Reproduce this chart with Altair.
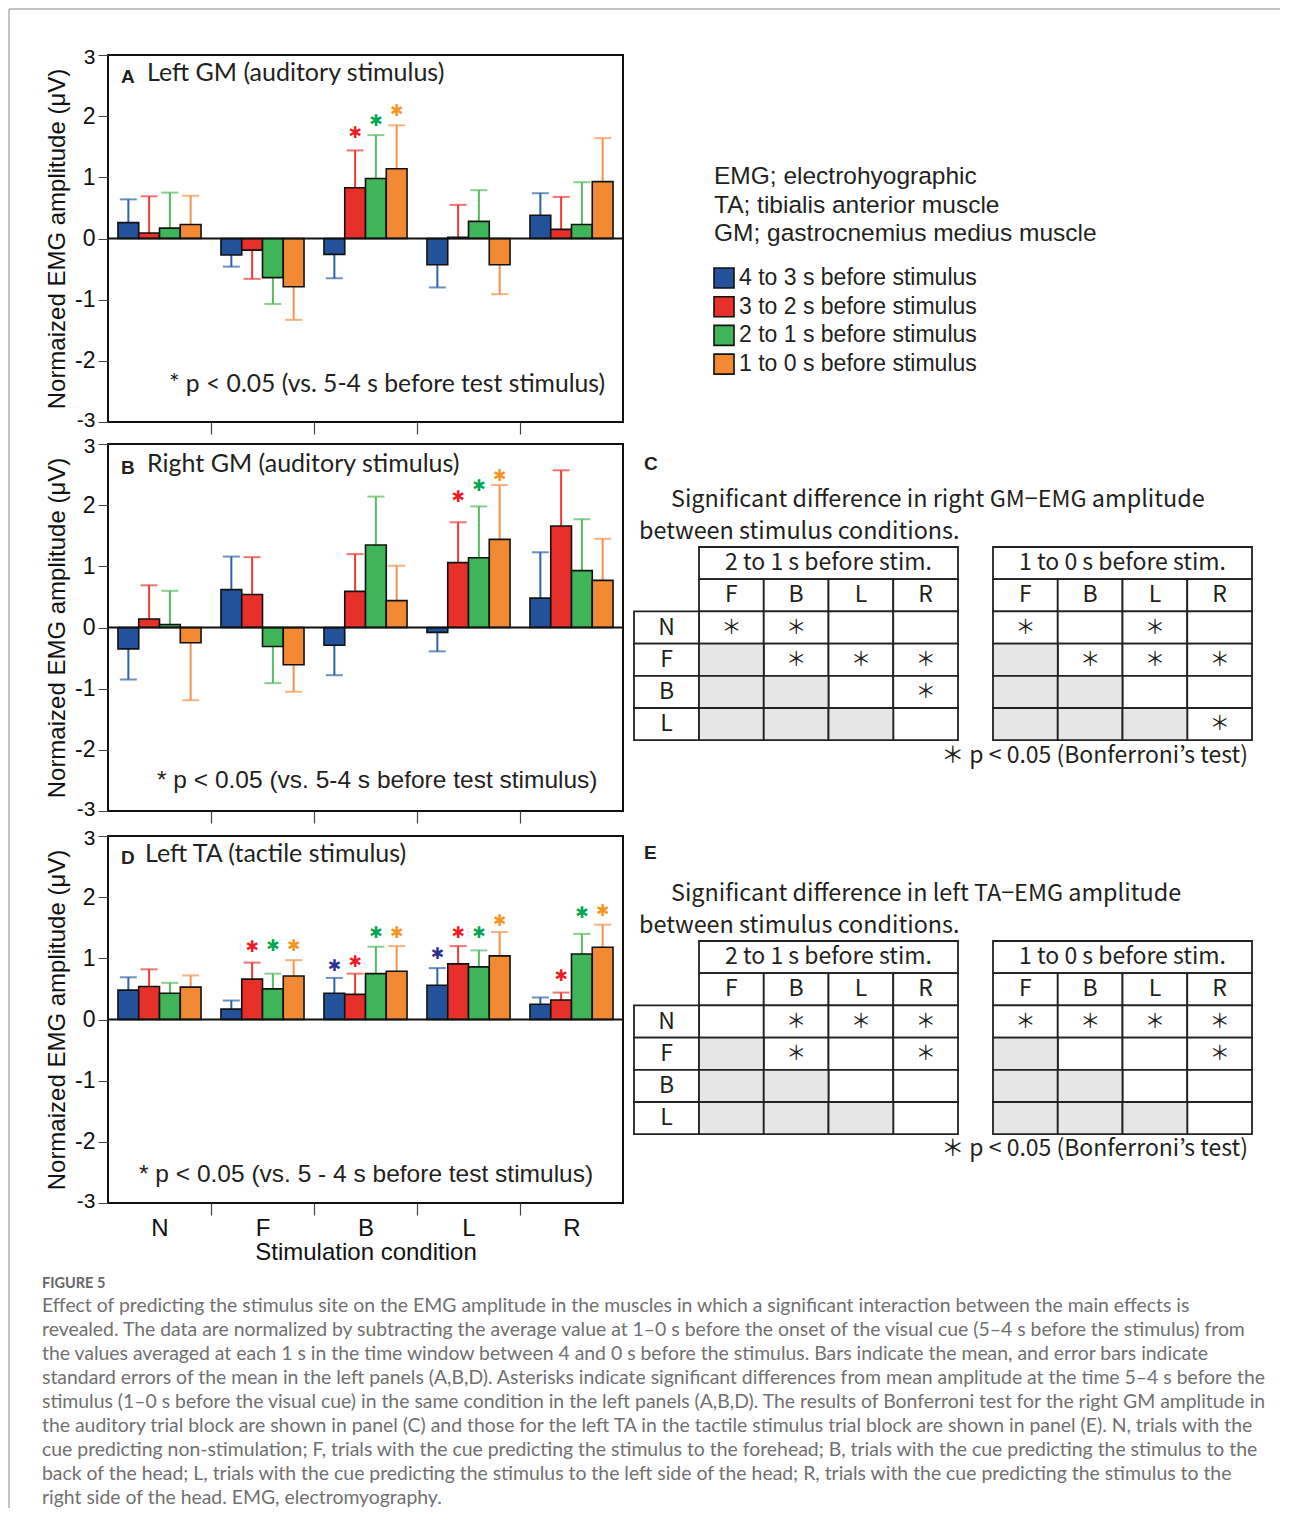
import altair as alt
import pandas as pd

# ---------------- data ----------------
conds = ["N", "F", "B", "L", "R"]
series = ["4 to 3 s before stimulus", "3 to 2 s before stimulus",
          "2 to 1 s before stimulus", "1 to 0 s before stimulus"]
bar_colors = ["#23529a", "#e8302a", "#40b458", "#f28a33"]
err_colors = ["#2e62aa", "#ee3a33", "#55bb5f", "#f5914a"]
star_colors = ["#2e3192", "#ed1c24", "#00a651", "#f7941d"]

# mean amplitude per condition (rows N,F,B,L,R) and period (cols = series)
a_mean = [[0.26, 0.09, 0.17, 0.23], [-0.27, -0.19, -0.64, -0.79], [-0.26, 0.83, 0.98, 1.14],
          [-0.43, 0.02, 0.28, -0.43], [0.38, 0.15, 0.23, 0.93]]
a_err = [[0.64, 0.69, 0.75, 0.70], [-0.46, -0.66, -1.07, -1.33], [-0.65, 1.44, 1.69, 1.85],
         [-0.80, 0.55, 0.79, -0.91], [0.74, 0.68, 0.92, 1.64]]
a_stars = [("B", 1, 1.73), ("B", 2, 1.92), ("B", 3, 2.09)]

b_mean = [[-0.35, 0.14, 0.05, -0.25], [0.62, 0.54, -0.31, -0.61], [-0.29, 0.59, 1.35, 0.44],
          [-0.08, 1.06, 1.14, 1.44], [0.48, 1.66, 0.93, 0.77]]
b_err = [[-0.85, 0.69, 0.60, -1.19], [1.16, 1.15, -0.91, -1.05], [-0.78, 1.20, 2.14, 1.01],
         [-0.39, 1.72, 1.98, 2.33], [1.23, 2.57, 1.77, 1.45]]
b_stars = [("L", 1, 2.13), ("L", 2, 2.32), ("L", 3, 2.48)]

d_mean = [[0.48, 0.54, 0.43, 0.53], [0.17, 0.66, 0.50, 0.71], [0.43, 0.41, 0.75, 0.79],
          [0.56, 0.91, 0.86, 1.04], [0.25, 0.32, 1.07, 1.18]]
d_err = [[0.69, 0.82, 0.60, 0.72], [0.31, 0.93, 0.75, 0.97], [0.68, 0.75, 1.19, 1.20],
         [0.84, 1.20, 1.13, 1.43], [0.36, 0.44, 1.40, 1.55]]
d_stars = [("F", 1, 1.18), ("F", 2, 1.20), ("F", 3, 1.20),
           ("B", 0, 0.87), ("B", 1, 0.94), ("B", 2, 1.41), ("B", 3, 1.41),
           ("L", 0, 1.07), ("L", 1, 1.41), ("L", 2, 1.41), ("L", 3, 1.61),
           ("R", 1, 0.71), ("R", 2, 1.74), ("R", 3, 1.78)]

# Bonferroni tables: rows N,F,B,L ; cols F,B,L,R ; 1 = significant
tab_rows = ["N", "F", "B", "L"]
tab_cols = ["F", "B", "L", "R"]
c_21 = [[1, 1, 0, 0], [0, 1, 1, 1], [0, 0, 0, 1], [0, 0, 0, 0]]
c_10 = [[1, 0, 1, 0], [0, 1, 1, 1], [0, 0, 0, 0], [0, 0, 0, 1]]
e_21 = [[0, 1, 1, 1], [0, 1, 0, 1], [0, 0, 0, 0], [0, 0, 0, 0]]
e_10 = [[1, 1, 1, 1], [0, 0, 0, 1], [0, 0, 0, 0], [0, 0, 0, 0]]

info_lines = ["EMG; electrohyographic", "TA; tibialis anterior muscle", "GM; gastrocnemius medius muscle"]

caption_head = "FIGURE 5"
caption_lines = [
    "Effect of predicting the stimulus site on the EMG amplitude in the muscles in which a significant interaction between the main effects is",
    "revealed. The data are normalized by subtracting the average value at 1\u20130 s before the onset of the visual cue (5\u20134 s before the stimulus) from",
    "the values averaged at each 1 s in the time window between 4 and 0 s before the stimulus. Bars indicate the mean, and error bars indicate",
    "standard errors of the mean in the left panels (A,B,D). Asterisks indicate significant differences from mean amplitude at the time 5\u20134 s before the",
    "stimulus (1\u20130 s before the visual cue) in the same condition in the left panels (A,B,D). The results of Bonferroni test for the right GM amplitude in",
    "the auditory trial block are shown in panel (C) and those for the left TA in the tactile stimulus trial block are shown in panel (E). N, trials with the",
    "cue predicting non-stimulation; F, trials with the cue predicting the stimulus to the forehead; B, trials with the cue predicting the stimulus to the",
    "back of the head; L, trials with the cue predicting the stimulus to the left side of the head; R, trials with the cue predicting the stimulus to the",
    "right side of the head. EMG, electromyography.",
]

# ---------------- styling ----------------
ARIAL = "Liberation Sans"
MYRIAD = "Lato"
JP = "Noto Sans CJK JP"
INK = "#231f20"
PW, PH = 515, 367
BAND = PW / len(conds)
RW = 620
CAP_H = 283


def ann(x, y, t, font, size, weight="normal", align="left", color=INK):
    return alt.Chart(pd.DataFrame({"t": [t]})).mark_text(
        font=font, fontSize=size, fontWeight=weight, align=align, baseline="middle", color=color
    ).encode(text="t:N", x=alt.value(x), y=alt.value(y))


def bar_panel(mean, err, stars, letter, title, title_x, note, note_font, note_size, note_x, ys, xlabels):
    rows = []
    for ci, c in enumerate(conds):
        for si, s in enumerate(series):
            rows.append({"cond": c, "series": s, "mean": mean[ci][si], "err": err[ci][si]})
    df = pd.DataFrame(rows)

    xa = dict(labels=xlabels, tickOffset=-BAND / 2, labelOffset=BAND / 2, tickSize=12,
              tickColor="#444", tickWidth=1.2, domain=False, labelAngle=0, labelFont=ARIAL,
              labelFontSize=24, labelColor="#111", labelPadding=1,
              tickOpacity={"condition": {"test": "datum.value === 'N'", "value": 0}, "value": 1})
    if xlabels:
        xa.update(title="Stimulation condition", titleFont=ARIAL, titleFontSize=24,
                  titleFontWeight="normal", titleColor="#111", titlePadding=0)
    else:
        xa["title"] = None
    x_axis = alt.Axis(**xa)
    y_axis = alt.Axis(title="Normaized EMG amplitude (\u03bcV)", values=[-3, -2, -1, 0, 1, 2, 3],
                      labelExpr="'' + datum.value", tickSize=10, tickColor="#444", domain=False,
                      grid=False, labelFont=ARIAL, labelColor="#111", labelPadding=3,
                      labelFontSize={"condition": {"test": "abs(datum.value) == 3", "value": 21}, "value": 23},
                      labelOffset={"condition": [{"test": "datum.value == 3", "value": 2},
                                                 {"test": "datum.value == -3", "value": -2}], "value": 0},
                      titleFont=ARIAL, titleFontSize=24, titleFontWeight="normal", titleColor="#111",
                      titlePadding=5)
    xenc = alt.X("cond:N", sort=conds, scale=alt.Scale(domain=conds, paddingInner=0, paddingOuter=0), axis=x_axis)
    xoff = alt.XOffset("series:N", sort=series,
                       scale=alt.Scale(domain=series, paddingInner=0, paddingOuter=0.48))
    yscale = alt.Scale(domain=[-3, 3], nice=False, zero=False)
    ecol = alt.Color("series:N", scale=alt.Scale(domain=series, range=err_colors), legend=None)

    base = alt.Chart(df)
    err_line = base.mark_rule(strokeWidth=2).encode(
        x=xenc, xOffset=xoff, y=alt.Y("mean:Q", scale=yscale, axis=y_axis), y2="err:Q", color=ecol)
    caps = base.mark_tick(thickness=2, size=17).encode(
        x=xenc, xOffset=xoff, y=alt.Y("err:Q", scale=yscale, axis=y_axis), color=ecol)
    bars = base.mark_bar(stroke="#111", strokeWidth=1.6).encode(
        x=xenc, xOffset=xoff, y=alt.Y("mean:Q", scale=yscale, axis=y_axis),
        fill=alt.Fill("series:N", scale=alt.Scale(domain=series, range=bar_colors), legend=None))
    zero = alt.Chart(pd.DataFrame({"z": [0]})).mark_rule(color="#111", strokeWidth=2).encode(
        y=alt.Y("z:Q", scale=yscale, axis=y_axis))

    layers = [err_line, caps, bars, zero]
    for si in range(len(series)):
        pts = [{"cond": c, "series": series[si], "y": y} for (c, s, y) in stars if s == si]
        if not pts:
            continue
        layers.append(alt.Chart(pd.DataFrame(pts)).mark_text(
            text="\u2731", font="DejaVu Sans", fontSize=16, baseline="middle", color=star_colors[si]
        ).encode(x=xenc, xOffset=xoff, y=alt.Y("y:Q", scale=yscale, axis=y_axis)))

    layers.append(ann(13, ys[0] + 4, letter, ARIAL, 19, weight="bold"))
    layers.append(ann(title_x, ys[0], title, MYRIAD, 25))
    layers.append(ann(note_x, ys[1], note, note_font, note_size))
    return alt.layer(*layers).properties(
        width=PW, height=PH, view=alt.ViewBackground(stroke="#111", strokeWidth=2))


def canvas_layers(h, texts, rects_white=None, rects_gray=None):
    xs = alt.Scale(domain=[0, RW], nice=False, zero=False)
    yscl = alt.Scale(domain=[h, 0], nice=False, zero=False)
    layers = []
    for rects, fillc in ((rects_white, "white"), (rects_gray, "#e6e6e6")):
        if rects:
            layers.append(alt.Chart(pd.DataFrame(rects)).mark_rect(
                fill=fillc, stroke="#222", strokeWidth=1.8).encode(
                x=alt.X("x0:Q", scale=xs, axis=None), x2="x1:Q",
                y=alt.Y("y0:Q", scale=yscl, axis=None), y2="y1:Q"))
    for grp in texts:
        df, kw = grp
        layers.append(alt.Chart(pd.DataFrame(df)).mark_text(baseline="middle", **kw).encode(
            x=alt.X("x:Q", scale=xs, axis=None), y=alt.Y("y:Q", scale=yscl, axis=None), text="t:N"))
    return layers


# -------- right panel of row A: abbreviations + legend --------
def legend_panel():
    xs = alt.Scale(domain=[0, RW], nice=False, zero=False)
    yscl = alt.Scale(domain=[PH, 0], nice=False, zero=False)
    info = [{"x": 80, "y": 122 + 28.5 * i, "t": t} for i, t in enumerate(info_lines)]
    leg = [{"series": s, "x0": 80, "x1": 100, "y0": 223 + 28.7 * i - 10, "y1": 223 + 28.7 * i + 10,
            "x": 105, "y": 223 + 28.7 * i, "t": s} for i, s in enumerate(series)]
    l1 = alt.Chart(pd.DataFrame(info)).mark_text(font=ARIAL, fontSize=24.5, align="left",
                                                 baseline="middle", color=INK).encode(
        x=alt.X("x:Q", scale=xs, axis=None), y=alt.Y("y:Q", scale=yscl, axis=None), text="t:N")
    l2 = alt.Chart(pd.DataFrame(leg)).mark_rect(stroke="#111", strokeWidth=1.6).encode(
        x=alt.X("x0:Q", scale=xs, axis=None), x2="x1:Q",
        y=alt.Y("y0:Q", scale=yscl, axis=None), y2="y1:Q",
        fill=alt.Fill("series:N", scale=alt.Scale(domain=series, range=bar_colors), legend=None))
    l3 = alt.Chart(pd.DataFrame(leg)).mark_text(font=ARIAL, fontSize=23, align="left",
                                                baseline="middle", color=INK).encode(
        x=alt.X("x:Q", scale=xs, axis=None), y=alt.Y("y:Q", scale=yscl, axis=None), text="t:N")
    return alt.layer(l1, l2, l3).properties(width=RW, height=PH, view=alt.ViewBackground(strokeWidth=0))


# -------- right panels C and E: Bonferroni tables --------
def table_panel(h, letter, muscle_line, m21, m10, top, y_letter, y_t1, y_t2, y_note):
    CW, RH, LAB, R0 = 64.75, 32.2, 65, 359
    whites, grays, txt, stars = [], [], [], []
    for x_start, mat, head in ((LAB, m21, "2 to 1 s before stim."), (R0, m10, "1 to 0 s before stim.")):
        whites.append({"x0": x_start, "x1": x_start + 4 * CW, "y0": top, "y1": top + RH})
        txt.append({"x": x_start + 2 * CW, "y": top + RH / 2, "t": head})
        for j, c in enumerate(tab_cols):
            cx = x_start + j * CW
            whites.append({"x0": cx, "x1": cx + CW, "y0": top + RH, "y1": top + 2 * RH})
            txt.append({"x": cx + CW / 2, "y": top + 1.5 * RH, "t": c})
            for i, r in enumerate(tab_rows):
                cell = {"x0": cx, "x1": cx + CW, "y0": top + (2 + i) * RH, "y1": top + (3 + i) * RH}
                (grays if j < i else whites).append(cell)
                if mat[i][j]:
                    stars.append({"x": cx + CW / 2, "y": top + (2.5 + i) * RH, "t": "\uff0a"})
    for i, r in enumerate(tab_rows):
        whites.append({"x0": 0, "x1": LAB, "y0": top + (2 + i) * RH, "y1": top + (3 + i) * RH})
        txt.append({"x": LAB / 2, "y": top + (2.5 + i) * RH, "t": r})
    texts = [
        (txt, dict(font=JP, fontSize=23, align="center", color=INK)),
        (stars, dict(font=JP, fontSize=20, align="center", color=INK)),
        ([{"x": 10, "y": y_letter, "t": letter}], dict(font=ARIAL, fontSize=19, fontWeight="bold", align="left", color=INK)),
        ([{"x": 37, "y": y_t1, "t": muscle_line}, {"x": 5, "y": y_t2, "t": "between stimulus conditions."}],
         dict(font=JP, fontSize=23.4, align="left", color=INK)),
        ([{"x": 614, "y": y_note, "t": "\uff0a p < 0.05 (Bonferroni\u2019s test)"}],
         dict(font=JP, fontSize=23, align="right", color=INK)),
    ]
    layers = canvas_layers(h, texts, whites, grays)
    return alt.layer(*layers).properties(width=RW, height=h, view=alt.ViewBackground(strokeWidth=0))


# -------- caption (plot-area origin aligned with the bar panels) + page frame --------
def caption_panel():
    xs = alt.Scale(domain=[0, PW], nice=False, zero=False)
    yscl = alt.Scale(domain=[CAP_H, 0], nice=False, zero=False)
    X = alt.X("x:Q", scale=xs, axis=None)
    Y = alt.Y("y:Q", scale=yscl, axis=None)
    head = alt.Chart(pd.DataFrame([{"x": -66, "y": 59, "t": caption_head}])).mark_text(
        font=MYRIAD, fontSize=14.5, fontWeight="bold", align="left", baseline="middle", color="#666").encode(
        x=X, y=Y, text="t:N")
    body = alt.Chart(pd.DataFrame([{"x": -66, "y": 81 + 24 * k, "t": t} for k, t in enumerate(caption_lines)])).mark_text(
        font=MYRIAD, fontSize=19.4, align="left", baseline="middle", color="#707070").encode(
        x=X, y=Y, text="t:N")
    # thin page frame (top and left edges), as in the source screenshot
    frame = pd.DataFrame([
        {"x": -99, "y": -1216, "x2": 1172, "y2": -1216},
        {"x": -99, "y": -1216, "x2": -99, "y2": CAP_H},
    ])
    fr = alt.Chart(frame).mark_rule(color="#888", strokeWidth=1).encode(
        x=X, y=Y, x2="x2:Q", y2="y2:Q")
    return alt.layer(fr, head, body).properties(width=PW, height=CAP_H, view=alt.ViewBackground(strokeWidth=0))


panel_a = bar_panel(a_mean, a_err, a_stars, "A", "Left GM (auditory stimulus)", 39,
                    "* p < 0.05 (vs. 5-4 s before test stimulus)", MYRIAD, 24.7, 61, (18, 330), False)
panel_b = bar_panel(b_mean, b_err, b_stars, "B", "Right GM (auditory stimulus)", 39,
                    "* p < 0.05 (vs. 5-4 s before test stimulus)", ARIAL, 24.5, 49, (20, 337), False)
panel_d = bar_panel(d_mean, d_err, d_stars, "D", "Left TA (tactile stimulus)", 37,
                    "* p < 0.05 (vs. 5 - 4 s before test stimulus)", ARIAL, 24.5, 31, (18, 339), True)

table_c = table_panel(370, "C", "Significant difference in right GM\u2212EMG amplitude", c_21, c_10,
                      103, 20, 56, 88, 312)
table_e = table_panel(PH, "E", "Significant difference in left TA\u2212EMG amplitude", e_21, e_10,
                      105, 17, 58, 90, 313)

chart = alt.concat(
    panel_a, legend_panel(), panel_b, table_c, panel_d, table_e, caption_panel(),
    columns=2, spacing={"row": 22, "column": 11}, bounds="flush", align="each"
).properties(
    padding={"left": 0, "top": 0, "right": 0, "bottom": 0}
).configure_view(strokeWidth=0).configure(background="white")

chart.save("out.html", embed_options={"renderer": "svg", "actions": False})
